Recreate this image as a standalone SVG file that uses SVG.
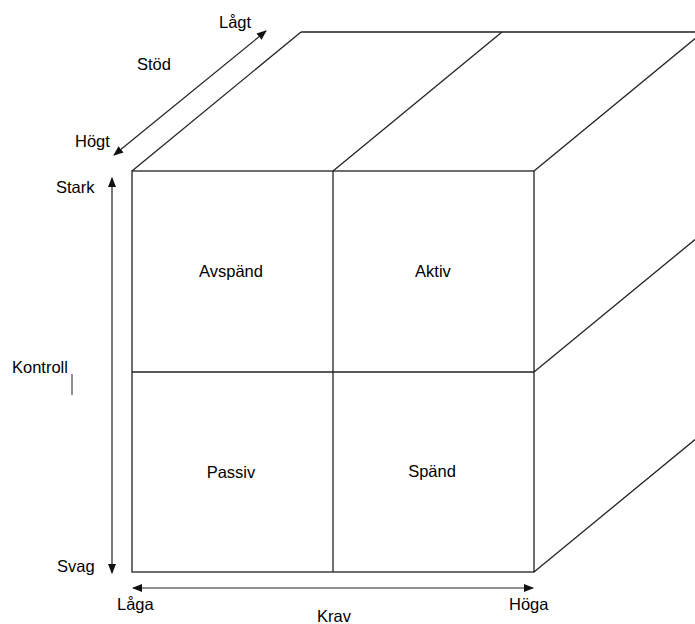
<svg xmlns="http://www.w3.org/2000/svg" width="695" height="624" viewBox="0 0 695 624">
  <style>
    .edge { stroke: #222; stroke-width: 1.3; fill: none; }
    .axis { stroke: #222; stroke-width: 1.2; fill: none; }
    .lbl { font-family: "Liberation Sans", Arial, sans-serif; font-size: 16.5px; fill: #000; }
    .mid { text-anchor: middle; }
  </style>
  <defs>
    <marker id="head" viewBox="0 0 10 10" refX="9" refY="5" markerWidth="10" markerHeight="10" markerUnits="userSpaceOnUse" orient="auto-start-reverse">
      <path d="M0,1 L10,5 L0,9 z" fill="#111"/>
    </marker>
  </defs>
  <rect width="695" height="624" fill="#fff"/>

  <!-- cube: front face split into four cells, depth edges running up-right -->
  <g id="cube">
    <rect class="edge" x="132" y="171" width="402" height="401"/>
    <line class="edge" x1="333" y1="171" x2="333" y2="572"/>
    <line class="edge" x1="132" y1="372" x2="534" y2="372"/>
    <line class="edge" x1="132" y1="171" x2="301" y2="32"/>
    <line class="edge" x1="333" y1="171" x2="502" y2="32"/>
    <line class="edge" x1="534" y1="171" x2="703" y2="32"/>
    <line class="edge" x1="534" y1="372" x2="703" y2="233"/>
    <line class="edge" x1="534" y1="572" x2="703" y2="433"/>
    <line class="edge" x1="301" y1="32" x2="703" y2="32"/>
  </g>

  <g id="cell-avspand"><text class="lbl mid" x="231" y="277">Avspänd</text></g>
  <g id="cell-aktiv"><text class="lbl mid" x="433" y="277">Aktiv</text></g>
  <g id="cell-passiv"><text class="lbl mid" x="231" y="478">Passiv</text></g>
  <g id="cell-spand"><text class="lbl mid" x="432" y="477">Spänd</text></g>

  <!-- axes -->
  <g id="connectors">
    <line class="axis" x1="114" y1="155" x2="266" y2="31" marker-start="url(#head)" marker-end="url(#head)"/>
    <line class="axis" x1="112" y1="178" x2="112" y2="573" marker-start="url(#head)" marker-end="url(#head)"/>
    <line class="axis" x1="133" y1="588" x2="533" y2="588" marker-start="url(#head)" marker-end="url(#head)"/>
  </g>

  <g id="axis-labels">
    <text class="lbl" x="219" y="28">Lågt</text>
    <text class="lbl" x="137" y="70">Stöd</text>
    <text class="lbl" x="75" y="147">Högt</text>
    <text class="lbl" x="56" y="193">Stark</text>
    <text class="lbl" x="12" y="373">Kontroll</text>
    <line x1="72" y1="374" x2="72" y2="395" stroke="#222" stroke-width="1"/>
    <text class="lbl" x="57" y="572">Svag</text>
    <text class="lbl" x="117" y="610">Låga</text>
    <text class="lbl" x="317" y="622">Krav</text>
    <text class="lbl" x="509" y="610">Höga</text>
  </g>
</svg>
